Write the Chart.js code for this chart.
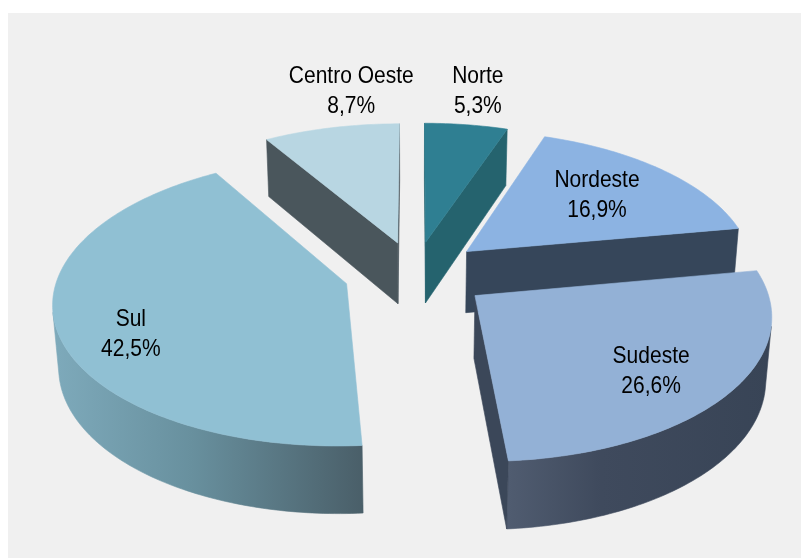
<!DOCTYPE html>
<html>
<head>
<meta charset="utf-8">
<script src="https://cdn.jsdelivr.net/npm/chart.js@4/dist/chart.umd.min.js"></script>
<style>
  html, body { margin: 0; padding: 0; background: #ffffff; }
  #wrap { position: relative; width: 801px; height: 558px; overflow: hidden; }
  #panel { position: absolute; left: 8px; top: 13px; right: 0; bottom: 0; background: #f0f0f0; }
  #chart { position: absolute; left: 0; top: 0; }
</style>
</head>
<body>
<div id="wrap">
  <div id="panel"></div>
  <canvas id="chart" width="801" height="558"></canvas>
</div>
<script>
// Regional shares (%)
const regions = ['Norte', 'Nordeste', 'Sudeste', 'Sul', 'Centro Oeste'];
const shares = [5.3, 16.9, 26.6, 42.5, 8.7];

// Slice styling
const topColors  = ['#2f7f92', '#8cb3e2', '#93b1d6', '#90c0d3', '#b8d6e2'];
const cutColors  = ['#25636e', '#36465a', '#3b4759', '#587b88', '#4a565c'];
const wallStops  = [
  [[0, '#25636e'], [1, '#25636e']],
  [[0, '#36465a'], [1, '#36465a']],
  [[0, '#505c70'], [0.35, '#3f4a5d'], [1, '#384456']],
  [[0, '#7eaabb'], [0.45, '#68909e'], [1, '#4a5f69']],
  [[0, '#4a565c'], [1, '#4a565c']]
];
const explodePx  = [62, 65, 70, 67, 62];
// label anchor: radius (in pie radii) and angular shift (deg) from the slice middle
const labelRadius = [1.33, 0.66, 0.74, 0.78, 1.33];
const labelShift  = [0, -1, 4, -8, 7];

// 3D view settings
const TILT = 29.1 * Math.PI / 180;  // camera elevation
const VIEW_DIST = 7.3;              // camera distance, in pie radii
const THICK = 0.25;                 // slab thickness, in pie radii
const SCALE = 1.063;                // projected radius relative to half plot height

const fmtShare = v => v.toFixed(1).replace('.', ',') + '%';

const pie3d = {
  id: 'pie3d',
  beforeDatasetDraw() { return false; },
  afterDatasetsDraw(chart) {
    const ctx = chart.ctx;
    const meta = chart.getDatasetMeta(0);
    const area = chart.chartArea;
    const R = (area.bottom - area.top) / 2;
    const S = R * SCALE;
    const sinA = Math.sin(TILT), cosA = Math.cos(TILT);
    const camZ = VIEW_DIST * cosA;
    const cx = meta.data[0].x, cy = meta.data[0].y;

    const proj = (X, Y, Z) => {
      const yc = Y * cosA - Z * sinA;
      const zc = 1 - (Y * sinA + Z * cosA) / VIEW_DIST;
      return [cx + S * X / zc, cy - S * yc / zc];
    };

    const slices = meta.data.map((arc, i) => {
      const p = arc.getProps(['startAngle', 'endAngle'], true);
      const t0 = p.startAngle + Math.PI / 2, t1 = p.endAngle + Math.PI / 2;
      const tm = (t0 + t1) / 2;
      const e = (arc.options.offset || 0) / R;
      const ox = e * Math.sin(tm), oz = -e * Math.cos(tm);
      return { i, t0, t1, tm, ox, oz, depth: oz - 0.5 * Math.cos(tm) };
    });

    const rim = (s, t, Y) => proj(s.ox + Math.sin(t), Y, s.oz - Math.cos(t));
    const poly = (pts, fill) => {
      ctx.beginPath();
      pts.forEach((q, k) => k ? ctx.lineTo(q[0], q[1]) : ctx.moveTo(q[0], q[1]));
      ctx.closePath();
      ctx.fillStyle = fill;
      ctx.fill();
      ctx.strokeStyle = fill;
      ctx.lineWidth = 0.6;
      ctx.stroke();
    };
    // does the face with normal (nx, nz) at (px, pz) look toward the camera?
    const faces = (px, pz, nx, nz) => nx * (0 - px) + nz * (camZ - pz) > 0;

    const order = slices.slice().sort((a, b) => a.depth - b.depth);
    order.forEach(s => {
      const i = s.i;
      const n = Math.max(2, Math.ceil((s.t1 - s.t0) / (Math.PI / 180)));
      const ts = [];
      for (let k = 0; k <= n; k++) ts.push(s.t0 + (s.t1 - s.t0) * k / n);

      // outer curved wall
      let xmin = Infinity, xmax = -Infinity;
      ts.forEach(t => { const q = rim(s, t, 0); xmin = Math.min(xmin, q[0]); xmax = Math.max(xmax, q[0]); });
      const grad = ctx.createLinearGradient(xmin, 0, xmax, 0);
      wallStops[i].forEach(st => grad.addColorStop(st[0], st[1]));
      let run = [];
      const flush = () => {
        if (run.length > 1) {
          const pts = run.map(t => rim(s, t, 0)).concat(run.slice().reverse().map(t => rim(s, t, -THICK)));
          poly(pts, grad);
        }
        run = [];
      };
      ts.forEach(t => {
        const vis = faces(s.ox + Math.sin(t), s.oz - Math.cos(t), Math.sin(t), -Math.cos(t));
        if (vis) run.push(t); else flush();
      });
      flush();

      // radial cut faces
      const cut = (t, sign) => {
        const nx = sign * Math.cos(t), nz = sign * Math.sin(t);
        if (!faces(s.ox, s.oz, nx, nz)) return;
        poly([proj(s.ox, 0, s.oz), rim(s, t, 0), rim(s, t, -THICK), proj(s.ox, -THICK, s.oz)], cutColors[i]);
      };
      cut(s.t0, -1);
      cut(s.t1, 1);

      // top face
      poly([proj(s.ox, 0, s.oz)].concat(ts.map(t => rim(s, t, 0))), topColors[i]);
    });

    // labels
    ctx.save();
    ctx.fillStyle = '#000000';
    ctx.font = '21px "Liberation Sans", Arial, sans-serif';
    ctx.textAlign = 'center';
    ctx.textBaseline = 'middle';
    slices.forEach(s => {
      const i = s.i;
      const t = s.tm + labelShift[i] * Math.PI / 180;
      const r = labelRadius[i];
      const q = proj(s.ox + r * Math.sin(t), 0, s.oz - r * Math.cos(t));
      const lines = [chart.data.labels[i], fmtShare(chart.data.datasets[0].data[i])];
      lines.forEach((txt, k) => {
        ctx.save();
        ctx.translate(q[0], q[1] + (k - 0.5) * 30);
        ctx.scale(1, 1.12);
        ctx.fillText(txt, 0, 0);
        ctx.restore();
      });
    });
    ctx.restore();
  }
};

new Chart(document.getElementById('chart'), {
  type: 'pie',
  data: {
    labels: regions,
    datasets: [{
      data: shares,
      backgroundColor: topColors,
      borderWidth: 0,
      offset: explodePx
    }]
  },
  options: {
    responsive: false,
    animation: false,
    events: [],
    layout: { padding: { left: 29, right: 0, top: 2, bottom: 14 } },
    plugins: { legend: { display: false }, tooltip: { enabled: false } }
  },
  plugins: [pie3d]
});
</script>
</body>
</html>
